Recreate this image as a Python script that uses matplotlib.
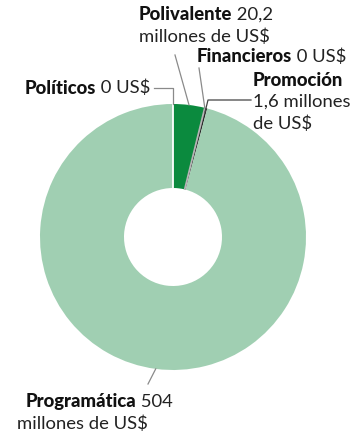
import numpy as np
import matplotlib.pyplot as plt

plt.rcParams['font.family'] = ['Lato', 'DejaVu Sans']

# data
categories = ['Políticos', 'Polivalente', 'Financieros', 'Promoción', 'Programática']
values = [0, 20.2, 0, 1.6, 504]
value_text = ['0 US$', '20,2', '0 US$', '', '504']
colors = ['#ffffff', '#0b8a3e', '#b5b5b5', '#2a2a2a', '#a0cfb2']

W, H = 355, 433
fig = plt.figure(figsize=(W / 100, H / 100), dpi=100)
ax = fig.add_axes([0, 0, 1, 1])

cx, cy = 173, H - 237
R, r_in = 133, 49

ax.pie(values, colors=colors, startangle=90, counterclock=False,
       center=(cx, cy), radius=R, frame=True,
       wedgeprops=dict(width=R - r_in, linewidth=0))
ax.set_xlim(0, W)
ax.set_ylim(0, H)
ax.axis('off')

# boundary angles from the data
total = float(np.sum(values))
bounds = 90 - 360 * np.concatenate([[0], np.cumsum(values)]) / total
mids = (bounds[:-1] + bounds[1:]) / 2

def on_ring(ang, rad=R):
    a = np.deg2rad(ang)
    return cx + rad * np.cos(a), cy + rad * np.sin(a)

# zero-size segments drawn as thin lines
for i, col in [(0, 'white'), (2, '#b5b5b5')]:
    x0, y0 = on_ring(bounds[i], r_in)
    x1, y1 = on_ring(bounds[i], R)
    ax.plot([x0, x1], [y0, y1], color=col, lw=1.3, solid_capstyle='butt')

lc = '#8a8a8a'
fs = 13.3
dark = '#111111'
txt = '#222222'
bw = 900

def label(x, y, bold, rest):
    ax.text(x, H - y, bold, fontweight=bw, fontsize=fs, ha='right', va='center', color=dark)
    if rest:
        ax.text(x, H - y, ' ' + rest, fontsize=fs, ha='left', va='center', color=txt)

# Políticos
label(96, 88, categories[0], value_text[0])
px, py = on_ring(bounds[0])
ax.plot([154, px, px], [H - 88, H - 88, py], color=lc, lw=0.9)

# Polivalente
label(232, 15, categories[1], value_text[1])
ax.text(204, H - 37, 'millones de US$', fontsize=fs, ha='center', va='center', color=txt)
px, py = on_ring(mids[1])
ax.plot([175, px], [H - 55, py], color=lc, lw=0.9)

# Financieros
label(292, 57, categories[2], value_text[2])
px, py = on_ring(bounds[2])
ax.plot([199, px], [H - 68, py], color=lc, lw=0.9)

# Promoción
ax.text(253, H - 80, categories[3], fontweight=bw, fontsize=fs, ha='left', va='center', color=dark)
ax.text(253, H - 102, '1,6 millones', fontsize=fs, ha='left', va='center', color=txt)
ax.text(253, H - 124, 'de US$', fontsize=fs, ha='left', va='center', color=txt)
px, py = on_ring(mids[3], R - 4)
ax.plot([251, 208, px], [H - 100, H - 100, py], color='#444444', lw=0.9)

# Programática
label(136, 402, categories[4], value_text[4])
ax.text(82, H - 424, 'millones de US$', fontsize=fs, ha='center', va='center', color=txt)
px, py = on_ring(mids[4])
ax.plot([148, px], [H - 384, py], color=lc, lw=0.9)

fig.savefig('out.png', dpi=100)
